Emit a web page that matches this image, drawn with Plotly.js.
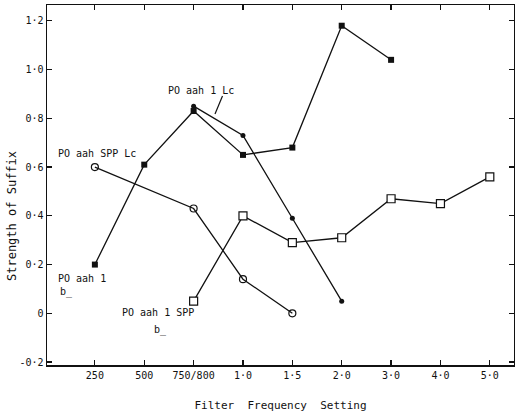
<!DOCTYPE html>
<html>
<head>
<meta charset="utf-8">
<script src="https://cdn.plot.ly/plotly-3.0.1.min.js"></script>
<style>html,body{margin:0;padding:0;background:#fff;}#chart{width:515px;height:418px;}</style>
</head>
<body>
<div id="chart"></div>
<script>
// Category axis (filter frequency settings)
const categories = ["250", "500", "750/800", "1·0", "1·5", "2·0", "3·0", "4·0", "5·0"];
const yTickVals = [-0.2, 0, 0.2, 0.4, 0.6, 0.8, 1.0, 1.2];
const yTickText = ["-0·2", "0", "0·2", "0·4", "0·6", "0·8", "1·0", "1·2"];

// PO aah 1 (filled squares)
const aah1X = ["250", "500", "750/800", "1·0", "1·5", "2·0", "3·0"];
const aah1Y = [0.20, 0.61, 0.83, 0.65, 0.68, 1.18, 1.04];

// PO aah 1 Lc (small filled dots)
const aah1LcX = ["750/800", "1·0", "1·5", "2·0"];
const aah1LcY = [0.85, 0.73, 0.39, 0.05];

// PO aah SPP Lc (open circles)
const aahSppLcX = ["250", "750/800", "1·0", "1·5"];
const aahSppLcY = [0.60, 0.43, 0.14, 0.00];

// PO aah 1 SPP (open squares)
const aah1SppX = ["750/800", "1·0", "1·5", "2·0", "3·0", "4·0", "5·0"];
const aah1SppY = [0.05, 0.40, 0.29, 0.31, 0.47, 0.45, 0.56];

const FONT = "DejaVu Sans Mono, monospace";
const lineStyle = {color: "#111", width: 1.3};

const traces = [
  {x: aah1X, y: aah1Y, name: "PO aah 1", mode: "lines+markers", line: lineStyle,
   marker: {symbol: "square", size: 6, color: "#111"}},
  {x: aah1LcX, y: aah1LcY, name: "PO aah 1 Lc", mode: "lines+markers", line: lineStyle,
   marker: {symbol: "circle", size: 5, color: "#111"}},
  {x: aahSppLcX, y: aahSppLcY, name: "PO aah SPP Lc", mode: "lines+markers", line: lineStyle,
   marker: {symbol: "circle-open", size: 7, color: "#111", line: {width: 1.2}}},
  {x: aah1SppX, y: aah1SppY, name: "PO aah 1 SPP", mode: "lines+markers", line: lineStyle,
   marker: {symbol: "square", size: 8, color: "#fff", line: {width: 1.2, color: "#111"}}}
];

const px = v => (v - 47) / 467;
const py = v => (365 - v) / 360;

const annFont = {family: FONT, size: 10, color: "#111"};
const layout = {
  width: 515, height: 418,
  margin: {l: 47, r: 1, t: 5, b: 53, pad: 0},
  paper_bgcolor: "#fff", plot_bgcolor: "#fff",
  showlegend: false,
  font: {family: FONT, size: 10, color: "#111"},
  xaxis: {
    type: "category", categoryorder: "array", categoryarray: categories,
    range: [-0.97, 8.49],
    showgrid: false, zeroline: false,
    showline: true, linecolor: "#111", linewidth: 1.5, mirror: "ticks",
    ticks: "inside", ticklen: 5, tickcolor: "#111", tickwidth: 1.2,
    tickfont: {family: FONT, size: 10, color: "#111"},
    title: {text: "Filter  Frequency  Setting", font: {family: FONT, size: 11, color: "#111"}, standoff: 22}
  },
  yaxis: {
    range: [-0.212, 1.265],
    tickvals: yTickVals, ticktext: yTickText,
    showgrid: false, zeroline: false,
    showline: true, linecolor: "#111", linewidth: 1.5, mirror: "ticks",
    ticks: "inside", ticklen: 5, tickcolor: "#111", tickwidth: 1.2,
    tickfont: {family: FONT, size: 10, color: "#111"}
  },
  annotations: [
    {xref: "paper", yref: "paper", x: px(12), y: py(216), text: "Strength of Suffix", textangle: -90,
     showarrow: false, font: {family: FONT, size: 12, color: "#111"}, xanchor: "center", yanchor: "middle"},
    {xref: "paper", yref: "paper", x: px(166), y: py(90), text: "PO aah 1 Lc", showarrow: false,
     font: annFont, xanchor: "left", yanchor: "middle"},
    {xref: "paper", yref: "paper", x: px(56), y: py(153), text: "PO aah SPP Lc", showarrow: false,
     font: annFont, xanchor: "left", yanchor: "middle"},
    {xref: "paper", yref: "paper", x: px(56), y: py(278), text: "PO aah 1", showarrow: false,
     font: annFont, xanchor: "left", yanchor: "middle"},
    {xref: "paper", yref: "paper", x: px(58), y: py(292), text: "b_", showarrow: false,
     font: annFont, xanchor: "left", yanchor: "middle"},
    {xref: "paper", yref: "paper", x: px(120), y: py(312), text: "PO aah 1 SPP", showarrow: false,
     font: annFont, xanchor: "left", yanchor: "middle"},
    {xref: "paper", yref: "paper", x: px(152), y: py(330), text: "b_", showarrow: false,
     font: annFont, xanchor: "left", yanchor: "middle"}
  ],
  shapes: [
    {type: "line", xref: "paper", yref: "paper", x0: px(222.5), y0: py(96), x1: px(215), y1: py(114),
     line: {color: "#111", width: 1.2}}
  ]
};

Plotly.newPlot("chart", traces, layout, {displayModeBar: false, staticPlot: true});
</script>
</body>
</html>
